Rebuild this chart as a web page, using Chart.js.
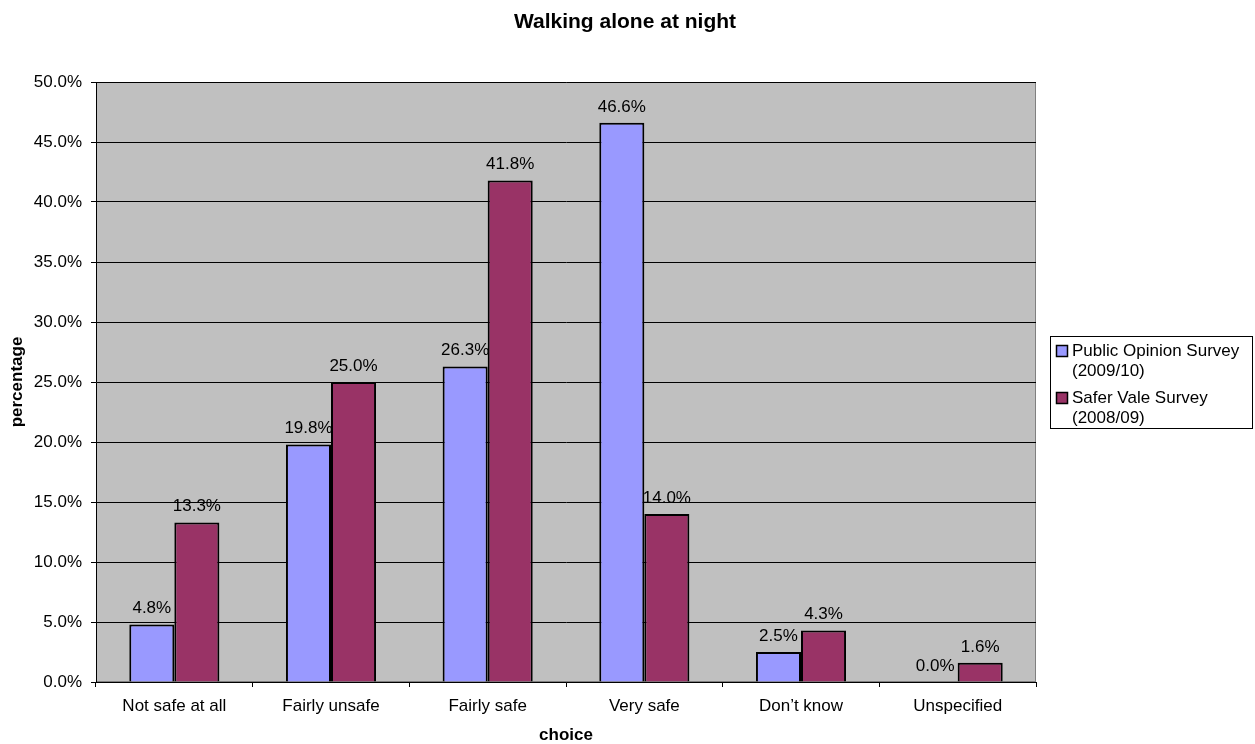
<!DOCTYPE html>
<html>
<head>
<meta charset="utf-8">
<title>Walking alone at night</title>
<script src="https://cdn.jsdelivr.net/npm/chart.js@4/dist/chart.umd.min.js"></script>
<style>
    body { margin: 0; background: #fff; }
    canvas { display: block; }
</style>
</head>
<body>
<canvas id="nightChart" width="1255" height="744"></canvas>
<script>
// data (percent)
const categories = ['Not safe at all', 'Fairly unsafe', 'Fairly safe', 'Very safe', 'Don\u2019t know', 'Unspecified']
const publicOpinion = [4.8, 19.8, 26.3, 46.6, 2.5, 0.0]
const saferVale = [13.3, 25.0, 41.8, 14.0, 4.3, 1.6]
const seriesLabels = [['Public Opinion Survey', '(2009/10)'], ['Safer Vale Survey', '(2008/09)']]
const seriesColors = ['#9999FF', '#993366']
const chartTitle = 'Walking alone at night'

const FONT = "'Liberation Sans', Arial, sans-serif"

// grey plot area like the old excel charts + the title over the whole picture
const plotBackground = {
    id: 'plotBackground',
    beforeDraw(chart) {
        const { ctx, chartArea } = chart
        ctx.save()
        ctx.fillStyle = '#C0C0C0'
        ctx.fillRect(chartArea.left, chartArea.top, chartArea.right - chartArea.left, chartArea.bottom - chartArea.top)
        ctx.strokeStyle = '#808080'
        ctx.lineWidth = 1
        ctx.strokeRect(chartArea.left + 0.5, chartArea.top + 0.5, chartArea.right - chartArea.left - 1, chartArea.bottom - chartArea.top - 1)

        ctx.fillStyle = '#000'
        ctx.font = 'bold 21px ' + FONT
        ctx.textAlign = 'center'
        ctx.textBaseline = 'middle'
        ctx.fillText(chartTitle, 625, 22)
        ctx.restore()
    }
}

// value labels above each bar
const barLabels = {
    id: 'barLabels',
    afterDatasetsDraw(chart) {
        const { ctx } = chart
        ctx.save()
        ctx.font = '17px ' + FONT
        ctx.fillStyle = '#000'
        ctx.textAlign = 'center'
        ctx.textBaseline = 'alphabetic'
        chart.data.datasets.forEach((ds, i) => {
            chart.getDatasetMeta(i).data.forEach((bar, j) => {
                ctx.fillText(ds.data[j].toFixed(1) + '%', bar.x, bar.y - 11)
            })
        })
        ctx.restore()
    }
}

// legend box on the right, two-line labels
const sideLegend = {
    id: 'sideLegend',
    afterDraw(chart) {
        const { ctx, chartArea } = chart
        const left = chartArea.right + 14
        const top = 336
        ctx.save()
        ctx.fillStyle = '#fff'
        ctx.fillRect(left, top, 202, 92)
        ctx.strokeStyle = '#000'
        ctx.lineWidth = 1
        ctx.strokeRect(left + 0.5, top + 0.5, 202, 92)
        ctx.font = '17px ' + FONT
        ctx.textBaseline = 'middle'
        ctx.textAlign = 'left'
        seriesLabels.forEach((lines, i) => {
            const y = top + 15 + i * 47
            ctx.fillStyle = seriesColors[i]
            ctx.fillRect(left + 6, y - 6, 12, 12)
            ctx.lineWidth = 1.5
            ctx.strokeRect(left + 6.5, y - 5.5, 11, 11)
            ctx.fillStyle = '#000'
            lines.forEach((t, k) => ctx.fillText(t, left + 22, y + k * 20))
        })
        ctx.restore()
    }
}

const ctx = document.getElementById('nightChart').getContext('2d')
const nightChart = new Chart(ctx, {
    type: 'bar',
    data: {
        labels: categories,
        datasets: [{
            label: seriesLabels[0].join(' '),
            data: publicOpinion,
            backgroundColor: seriesColors[0],
            borderColor: '#000',
            borderWidth: 2
        }, {
            label: seriesLabels[1].join(' '),
            data: saferVale,
            backgroundColor: seriesColors[1],
            borderColor: '#000',
            borderWidth: 2
        }]
    },
    options: {
        responsive: false,
        animation: false,
        devicePixelRatio: 1,
        categoryPercentage: 0.575,
        barPercentage: 1,
        layout: { padding: { left: 0, right: 219, top: 82, bottom: 0 } },
        scales: {
            x: {
                grid: { drawOnChartArea: false, color: '#000', tickLength: 5 },
                border: { color: '#000', width: 1 },
                ticks: { color: '#000', font: { family: FONT, size: 17 }, padding: 9, maxRotation: 0 },
                title: {
                    display: true,
                    text: 'choice',
                    color: '#000',
                    font: { family: FONT, size: 17, weight: 'bold', lineHeight: 1 },
                    padding: { top: 0, bottom: 0 }
                },
                afterFit(scale) { scale.height = 62 }
            },
            y: {
                min: 0,
                max: 50,
                ticks: {
                    stepSize: 5,
                    color: '#000',
                    font: { family: FONT, size: 17 },
                    padding: 9,
                    callback: v => v.toFixed(1) + '%'
                },
                grid: { color: '#000', tickLength: 5 },
                border: { color: '#000', width: 1 },
                title: {
                    display: true,
                    text: 'percentage',
                    color: '#000',
                    font: { family: FONT, size: 17, weight: 'bold', lineHeight: 1.2 },
                    padding: { top: 7, bottom: 0 }
                },
                afterFit(scale) { scale.width = 96 }
            }
        },
        plugins: {
            legend: { display: false },
            tooltip: { enabled: false },
            title: { display: false }
        }
    },
    plugins: [plotBackground, barLabels, sideLegend]
})
</script>
</body>
</html>
